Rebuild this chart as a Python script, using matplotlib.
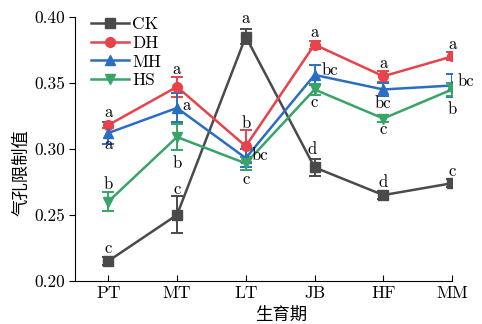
import matplotlib
matplotlib.use('Agg')
from matplotlib import pyplot as plt

stages = ['PT', 'MT', 'LT', 'JB', 'HF', 'MM']
ck = [0.215, 0.250, 0.385, 0.286, 0.265, 0.274]
dh = [0.318, 0.347, 0.302, 0.379, 0.355, 0.370]
mh = [0.312, 0.331, 0.293, 0.356, 0.345, 0.348]
hs = [0.260, 0.309, 0.289, 0.345, 0.323, 0.345]
ck_err = [0.003, 0.014, 0.0055, 0.0065, 0.003, 0.003]
dh_err = [0.0025, 0.0075, 0.012, 0.003, 0.004, 0.003]
mh_err = [0.008, 0.011, 0.007, 0.0075, 0.005, 0.009]
hs_err = [0.007, 0.010, 0.005, 0.0045, 0.003, 0.005]
ck_sig = ['c', 'c', 'a', 'd', 'd', 'c']
dh_sig = ['a', 'a', 'b', 'a', 'a', 'a']
mh_sig = ['a', 'a', 'bc', 'bc', 'bc', 'bc']
hs_sig = ['b', 'b', 'c', 'c', 'c', 'b']

# label offsets in pixels (dx, dy), dy positive = down
ck_off = [(0, -13), (0, -26), (0, -18), (-2, -18), (0, -13), (0, -12)]
dh_off = [(0, -13), (0, -17), (0, -23), (0, -12), (0, -13), (0, -12)]
mh_off = [(0, 11), (10, -3), (14, -3), (15, -5), (0, 14), (14, -4)]
hs_off = [(0, -17), (0, 26), (0, 16), (0, 13), (0, 11), (0, 20)]

latin = ['cmr10', 'DejaVu Serif']
cjk = ['Noto Sans CJK SC', 'DejaVu Sans']
plt.rcParams['font.family'] = latin

fig = plt.figure(figsize=(4.82, 3.24), dpi=100)
ax = fig.add_axes([0.156, 0.133, 0.782, 0.815])

x = list(range(len(stages)))
series = [
    ('CK', ck, ck_err, ck_sig, ck_off, '#4a4a4a', 's'),
    ('DH', dh, dh_err, dh_sig, dh_off, '#e8424a', 'o'),
    ('MH', mh, mh_err, mh_sig, mh_off, '#2a6ec2', '^'),
    ('HS', hs, hs_err, hs_sig, hs_off, '#38a467', 'v'),
]
handles = []
for name, vals, err, sig, off, col, mk in series:
    eb = ax.errorbar(x, vals, yerr=err, color=col, marker=mk, markersize=7,
                     linewidth=1.8, elinewidth=1.4, capsize=4, capthick=1.4)
    handles.append(eb.lines[0])
    for i in x:
        dx, dy = off[i]
        ax.annotate(sig[i], (i, vals[i]), xytext=(dx * 0.72, -dy * 0.72),
                    textcoords='offset points', ha='center', va='center',
                    fontsize=12)

ax.set_xlim(-0.48, 5)
ax.set_ylim(0.20, 0.40)
ax.set_xticks(x)
ax.set_xticklabels(stages, fontsize=12.5)
ax.set_yticks([0.20, 0.25, 0.30, 0.35, 0.40])
ax.set_yticklabels(['0.20', '0.25', '0.30', '0.35', '0.40'], fontsize=12.5)
ax.tick_params(axis='x', direction='in', length=4)
ax.tick_params(axis='y', direction='out', length=4)
ax.spines['top'].set_visible(False)
ax.spines['right'].set_visible(False)

ax.set_xlabel('生育期', family=cjk, fontsize=12.5)
ax.xaxis.set_label_coords(0.545, -0.093)
ax.set_ylabel('气孔限制值', family=cjk, fontsize=12.5)
ax.yaxis.set_label_coords(-0.12, 0.41)

ax.legend(handles, [s[0] for s in series], loc='upper left',
          bbox_to_anchor=(0.0, 1.06), frameon=False,
          numpoints=1, handlelength=2.2, handletextpad=0.2,
          labelspacing=0.2, fontsize=12.5)

fig.savefig('out.png', dpi=100)
